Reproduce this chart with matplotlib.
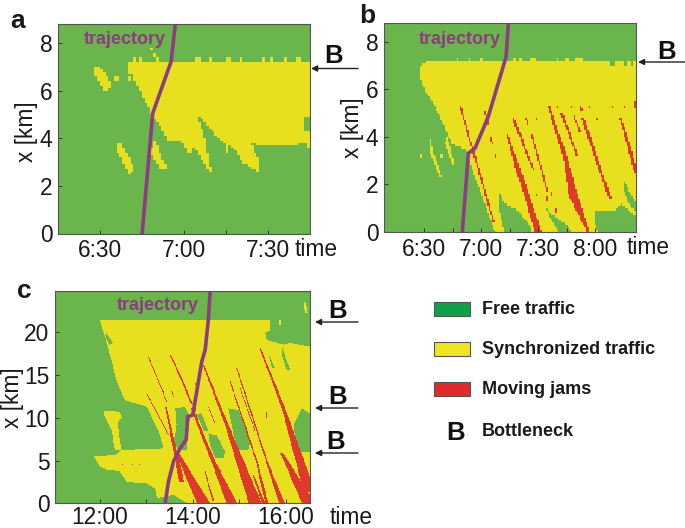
import numpy as np
import matplotlib
matplotlib.use("Agg")
import matplotlib.pyplot as plt
from matplotlib.colors import ListedColormap
from matplotlib.patches import Rectangle
from matplotlib.path import Path
from matplotlib.ticker import FixedLocator

plt.rcParams['font.family'] = ['Liberation Sans', 'DejaVu Sans']
W, H = 685, 528
GREEN, YELLOW, RED = '#6AB54C', '#E8DF1E', '#DE3A2B'
PURPLE = '#8E3B82'

# ---------- panel a (minutes after midnight, km) ----------
a_sync = [[(400.3,7.23),(465,7.23),(465,4.91),(462.8,4.91),(462.8,4.28),(465,4.28),(465,3.51),(463,3.86),
           (460.4,3.72),(447,3.72),(443.8,3.86),(446.8,3.09),(447.1,2.53),(445.6,2.67),(441.4,2.95),(436.6,3.79),
           (435.7,3.30),(434.9,3.79),(431.9,4.07),(425.9,4.91),(425,4.84),(427.4,4.07),(429.9,2.53),(428.9,2.6),
           (423.6,3.65),(422.1,3.30),(419.4,3.86),(414.6,3.9),(408.7,4.98),(401.5,6.67),(400.3,6.67)],
          [(388.1,7.02),(390,7.02),(394,6.32),(393.2,6.0),(391.2,6.0),(388.1,6.67)],
          [(395,6.43),(397.1,6.43),(397.1,6.57),(395,6.57)],
          [(400.3,6.43),(401.3,6.43),(401.3,6.57),(400.3,6.57)],
          [(397.4,3.86),(402.1,2.81),(401.2,2.53),(400.3,2.53),(396,3.51),(396.2,3.72)],
          [(409,4.07),(414,2.74),(411.4,2.69),(408.3,3.37)],
          [(408.1,7.79),(409,7.79),(411,7.23),(409.9,7.23)]]
a_bump_start = [402.1,404.2,424.1,428.9,435.5,440,448,450.7,456.3,460.2]
a_bump_end = [403.2,405,425.9,430.1,437.3,441.2,449.4,451.6,457.2,462]
a_traj_t = [405.1,408.9,415.5,417]
a_traj_x = [0,5.05,7.23,8.84]

# ---------- panel b ----------
b_sync = [[(388.2,7.02),(392.1,7.2),(501.6,7.2),(501.6,0),(427.3,0),(423.7,0.78),(418.5,1.9),(415,2.75),(412.8,3.17),
           (412.3,3.45),(404.4,3.73),(400.9,4.36),(395.6,5.27),(392.1,5.69),(388.2,6.39)],
          [(392.5,4.08),(394.2,3.45),(399.1,2.32),(398.3,2.25),(393,3.31)],
          [(401.8,4.08),(406.2,2.75),(404.8,2.82),(400.9,3.73)],
          [(387.7,3.1),(388.4,3.1),(388.4,3.3),(387.7,3.3)],
          [(398.3,3.14),(400,3.14),(400,3.3),(398.3,3.3)]]
b_free = [[(429.4,1.69),(432.2,1.2),(437.8,0.99),(440.4,0.78),(445.7,0.22),(446.6,0),(432.2,0),(429.9,0.78)],
          [(453.6,1.13),(456.3,0.78),(464.2,0.36),(467.7,0),(460.7,0),(457.1,0.5)],
          [(480,0.95),(483.5,0.9),(490.5,0.92),(494,1.2),(496.7,0.99),(501.6,0.64),(501.6,0),(481.7,0),(479.6,0.5)],
          [(494.9,2.25),(497.6,1.76),(501.6,1.2),(501.6,0.85),(497.6,1.2),(495.4,1.69)],
          [(488,7.0),(490,7.0),(490,7.2),(488,7.2)],
          [(495.5,7.0),(497,7.0),(497,7.2),(495.5,7.2)],
          [(499,7.0),(500,7.0),(500,7.2),(499,7.2)]]
b_bump_start = [407,413.2,419.3,436.9,439.6,445.7,459.8,464.2,469.4]
b_bump_end = [407.9,414.6,420.5,438.1,441.3,448.4,461,466,473.3]
b_jam_t0 = [408.8,421.6,424.8,427.6,433.8,439.6,436.6,446.6,443.4,449.2,455.4,464.2,468.6,462.4,468.6,473.3,493.2,
            460.7,467.2,472.1,477.3,488.8,495.8,501,481.2,449.2,457.1,459.4,455]
b_jam_x0 = [5.34,5.06,4.03,3.28,4.08,2.6,4.85,4.08,4.85,4.85,5.34,3.17,1.48,4.99,4.92,4.85,4.85,
            5.34,5.34,5.34,5.34,5.34,5.34,5.55,4.85,1.6,1.69,0.95,1.46]
b_jam_t1 = [426.4,423.7,425.7,427.6,439.6,450.1,447.5,455,444.8,449.2,464.2,468.6,476.5,470.7,472.1,487.9,501.6,
            460.7,467.2,473,477.3,488.8,495.8,501,481.2,449.2,457.1,459.4,455]
b_jam_x1 = [0.43,4.5,3.73,3.14,2.6,0,2.6,1.69,4.5,4.73,3.17,1.48,0,3.17,4.22,1.41,2.54,
            5.2,5.2,5.06,5.2,5.2,5.2,5.2,4.7,1.48,1.48,0.81,1.36]
b_jam_w0 = [.9,.9,.7,.8,1,2.5,1.4,.9,.8,.9,1.2,2.1,4.9,1.4,.9,1.8,1,.8,.8,.9,.8,.9,.9,.9,.9,.8,.9,.9,.6]
b_jam_w1 = [1,.9,.7,.8,2.5,3.5,1,.9,.8,.9,2.1,4.9,1.4,1,.9,1.4,2.1,.8,.8,.9,.8,.9,.9,.9,.9,.8,.9,.9,.6]
b_traj_t = [410,413.2,416.7,423.7,433.1,434.3]
b_traj_x = [0,3.31,3.52,4.85,7.37,8.8]

# ---------- panel c ----------
c_sync = [[(720,21.44),(940.1,21.44),(940.1,20.27),(933.6,19.88),(935.8,19.1),(957.4,18.52),(966,18.71),(991,18.32),
           (991,0),(832.2,0),(815,0.97),(793.4,0.58),(791.2,1.75),(780.4,2.34),(754.5,2.53),(745.9,3.7),(728.6,3.9),
           (719.1,4.29),(712.5,5.46),(739.4,5.65),(748,6.24),(802,6.43),(797.7,7.99),(780.4,11.31),(752.4,12.09),
           (741.6,14.23),(732.9,17.35)],
          [(724.3,10.8),(745.9,10.72),(748,9.95),(742.4,9.36),(748,6.24),(739.4,6.24),(735,8.42),(725.2,10.33)],
          [(983.3,23.59),(986.7,23.39),(988.5,22.22),(985.4,22.22)],
          [(951.5,20.9),(954,20.9),(954,21.44),(951.5,21.44)]]
c_free = [[(817.1,11.11),(830.1,11.31),(836.5,9.94),(833.1,7.6),(832.2,6.24),(821.4,6.24),(815,7.21),(819.3,9.16)],
          [(845.2,10.33),(851.6,10.53),(860.3,8.38),(854.7,8.38)],
          [(860.3,8.19),(871.1,7.99),(881.9,6.04),(879.7,5.26),(868.9,5.26),(862.4,6.82)],
          [(886.2,11.11),(899.1,10.92),(914.2,7.21),(912,6.24),(899.1,6.24),(892.6,7.99)],
          [(981.1,11.11),(991,10.53),(991,6.04),(976.8,6.04),(972.5,7.6),(970.3,9.16)],
          [(938,17.54),(946.6,15.79),(942.3,15.79)],
          [(955.2,18.32),(966,15.6),(961.7,15.6),(955.2,17.35)],
          [(728.6,19.88),(736.4,18.71),(732.1,18.52),(727.8,19.3)]]
c_jam_t0 = [782.6,780.4,805,811.5,838.7,866.7,853.8,884,819.3,897,935.8,888.3,922.9,927.2,957.4,955.2,918.5,856,901.3,860.3,
            749.3,762.2,771.8,812.8,959.5,935.8,843,909.9,843]
c_jam_x0 = [17.15,12.87,11.31,17.35,11.11,4.87,16.18,9.16,6.04,15.79,4.87,14.23,4.87,18.13,11.11,5.85,3.31,3.7,13.45,11.31,
            4.55,4.55,4.55,13.06,13.06,10.72,11.11,3.31,14]
c_jam_t1 = [806.3,808.5,825.7,838.7,866.7,890.5,884,920.7,853.8,935.8,955.2,922.9,935.8,957.4,991,989.8,931.5,866.7,920.7,868.9,
            749.3,762.2,771.8,815,959.5,935.8,849.5,922.9,847]
c_jam_x1 = [11.89,7.99,2.53,11.7,4.87,0,9.16,0,0,4.87,0,4.87,0,11.11,1.36,0,0,0.19,8.38,9.16,
            4.4,4.4,4.4,12.48,12.28,9.94,8.38,0,12.5]
c_jam_w0 = [1.3,1.3,1.7,1.7,2.6,5.2,1.7,4.3,3.5,1.3,2.2,1.3,2.2,1.7,4.3,3.5,1.7,1.3,0.9,0.9,
            1.2,1.2,1.2,1,1,1,0.9,0.9,0.9]
c_jam_w1 = [1.3,1.3,6.5,2.6,5.2,14,4.3,17,17,2.2,7.5,2.2,4,4.3,15,17,4,2.2,1.3,0.9,
            1.2,1.2,1.2,1,1,1,0.9,1.5,0.9]
c_traj_t = [804.2,808.5,815,823.6,831.4,833.5,840,851.6,856,860.3,862.4]
c_traj_x = [0,2.53,4.87,6.43,7.41,10.14,10.33,16.57,17.93,21.64,24.83]

# ---------- layout and labels ----------
panel_a_ticks, panel_a_minor = [390,420,450], [405,435]
panel_b_ticks, panel_b_minor = [390,420,450,480], [405,435,465]
panel_c_ticks, panel_c_minor = [720,840,960], [780,900]
a_labels = ['6:30','7:00','7:30']
b_labels = ['6:30','7:00','7:30','8:00']
c_labels = ['12:00','14:00','16:00']
legend_labels = ['Free traffic','Synchronized traffic','Moving jams']
legend_colors = ['#0FA14A','#EFE524','#DE2B2B']


def fig_x(px): return px / W
def fig_y(py): return 1 - py / H


fig = plt.figure(figsize=(W/100, H/100), dpi=100)


def rasterise(xlim, ylim, dt, dx, sync, free=(), bumps=(), jams=None):
    te = np.arange(xlim[0], xlim[1] + dt, dt)
    xe = np.arange(0, ylim[1] + dx, dx)
    tc, xc = (te[:-1] + te[1:]) / 2, (xe[:-1] + xe[1:]) / 2
    T, X = np.meshgrid(tc, xc)
    pts = np.column_stack([T.ravel(), X.ravel()])
    grid = np.zeros(T.shape, dtype=int)
    for poly in sync:
        grid[Path(poly + [poly[0]]).contains_points(pts).reshape(T.shape)] = 1
    for s, e, top in bumps:
        grid[(T >= s) & (T <= e) & (X >= top[0]) & (X <= top[1])] = 1
    for poly in free:
        grid[Path(poly + [poly[0]]).contains_points(pts).reshape(T.shape)] = 0
    if jams is not None:
        for t0, x0, t1, x1, w0, w1 in zip(*jams):
            hi, lo = max(x0, x1), min(x0, x1)
            if hi - lo < dx:
                hi, lo = hi + dx/2, lo - dx/2
            f = np.clip((x0 - X) / max(x0 - x1, 1e-6), 0, 1)
            centre = t0 + (t1 - t0) * f
            half = np.maximum((w0 + (w1 - w0) * f) / 2, dt / 2)
            grid[(X <= hi) & (X >= lo) & (np.abs(T - centre) <= half)] = 2
    return te, xe, grid


def panel(box, xlim, ylim, yticks, majors, minors, labels, grid_args, traj, tx, ty, pad=4):
    l, t, r, b = box
    ax = fig.add_axes([fig_x(l), fig_y(b), (r - l) / W, (b - t) / H])
    te, xe, grid = rasterise(xlim, ylim, *grid_args[:2], **grid_args[2])
    ax.pcolormesh(te, xe, grid, cmap=ListedColormap([GREEN, YELLOW, RED]), vmin=0, vmax=2, shading='flat')
    ax.plot(traj[0], traj[1], color=PURPLE, lw=2.6, solid_joinstyle='round', clip_on=True)
    ax.set_xlim(*xlim); ax.set_ylim(*ylim)
    ax.xaxis.set_major_locator(FixedLocator(majors))
    ax.xaxis.set_minor_locator(FixedLocator(minors))
    ax.set_xticklabels(labels)
    ax.set_yticks(yticks)
    ax.tick_params(which='both', direction='in', length=3, width=0.7, color='#333333',
                   labelsize=16.4, labelcolor='#1a1a1a')
    ax.tick_params(axis='x', pad=pad)
    ax.tick_params(axis='y', pad=4)
    for s in ax.spines.values():
        s.set_color('#555555'); s.set_linewidth(0.8)
    fig.text(fig_x(tx), fig_y(ty), 'trajectory', color=PURPLE, fontsize=13, fontweight='bold', ha='center', va='center')
    return ax


panel((58, 24, 309.5, 233.5), (375, 465), (0, 8.8), [0,2,4,6,8], panel_a_ticks, panel_a_minor, a_labels,
      (1.0, 0.1, dict(sync=a_sync, bumps=[(s, e, (7.2, 7.4)) for s, e in zip(a_bump_start, a_bump_end)])),
      (a_traj_t, a_traj_x), 125, 40)
panel((384, 22.7, 636, 232), (368.7, 501.6), (0, 8.8), [0,2,4,6,8], panel_b_ticks, panel_b_minor, b_labels,
      (0.8, 0.1, dict(sync=b_sync, free=b_free, bumps=[(s, e, (7.15, 7.35)) for s, e in zip(b_bump_start, b_bump_end)],
                      jams=(b_jam_t0, b_jam_x0, b_jam_t1, b_jam_x1, b_jam_w0, b_jam_w1))),
      (b_traj_t, b_traj_x), 459.6, 39)
panel((55, 291, 309.5, 503.3), (661.7, 991), (0, 24.83), [0,5,10,15,20], panel_c_ticks, panel_c_minor, c_labels,
      (0.6, 0.12, dict(sync=c_sync, free=c_free,
                       jams=(c_jam_t0, c_jam_x0, c_jam_t1, c_jam_x1, c_jam_w0, c_jam_w1))),
      (c_traj_t, c_traj_x), 158, 306, pad=2)

# text labels
for px, py, s in [(27, 132, 'x [km]'), (353, 128, 'x [km]'), (12, 398, 'x [km]')]:
    fig.text(fig_x(px), fig_y(py), s, rotation=90, fontsize=16.4, ha='center', va='center', color='#1a1a1a')
for px, py in [(316, 249), (648, 248), (351, 517)]:
    fig.text(fig_x(px), fig_y(py), 'time', fontsize=16.4, ha='center', va='center', color='#1a1a1a')
for px, py, s in [(18, 28, 'a'), (367, 23, 'b'), (24, 298, 'c')]:
    fig.text(fig_x(px), fig_y(py), s, fontsize=19, fontweight='bold', ha='center', va='baseline', color='#1a1a1a')
for px, py in [(333.5, 63), (666.5, 59), (338, 318), (338, 404), (336, 449)]:
    fig.text(fig_x(px), fig_y(py), 'B', fontsize=18.5, fontweight='bold', ha='center', va='baseline', color='#111111')
for x0, x1, py in [(358, 311, 68.5), (685, 638, 62), (358, 315, 322), (358, 315, 408), (358, 315, 453)]:
    fig.add_artist(plt.Annotation('', xy=(fig_x(x1), fig_y(py)), xytext=(fig_x(x0), fig_y(py)),
                                  xycoords='figure fraction', textcoords='figure fraction',
                                  arrowprops=dict(arrowstyle='-|>', color='#222222', lw=1.0, mutation_scale=9,
                                                  shrinkA=0, shrinkB=0)))

# legend
for (py, label, col) in zip([302, 342, 382], legend_labels, legend_colors):
    fig.add_artist(Rectangle((fig_x(433.5), fig_y(py + 14)), 36.5 / W, 14 / H, transform=fig.transFigure,
                             facecolor=col, edgecolor='#555555', lw=0.8))
    fig.text(fig_x(482), fig_y(py + 8), label, fontsize=13, fontweight='bold', ha='left', va='center', color='#1a1a1a')
fig.text(fig_x(455.5), fig_y(440), 'B', fontsize=18.5, fontweight='bold', ha='center', va='baseline', color='#111111')
fig.text(fig_x(482), fig_y(431), 'Bottleneck', fontsize=13, fontweight='bold', ha='left', va='center', color='#1a1a1a')

fig.savefig('out.png', dpi=100)
